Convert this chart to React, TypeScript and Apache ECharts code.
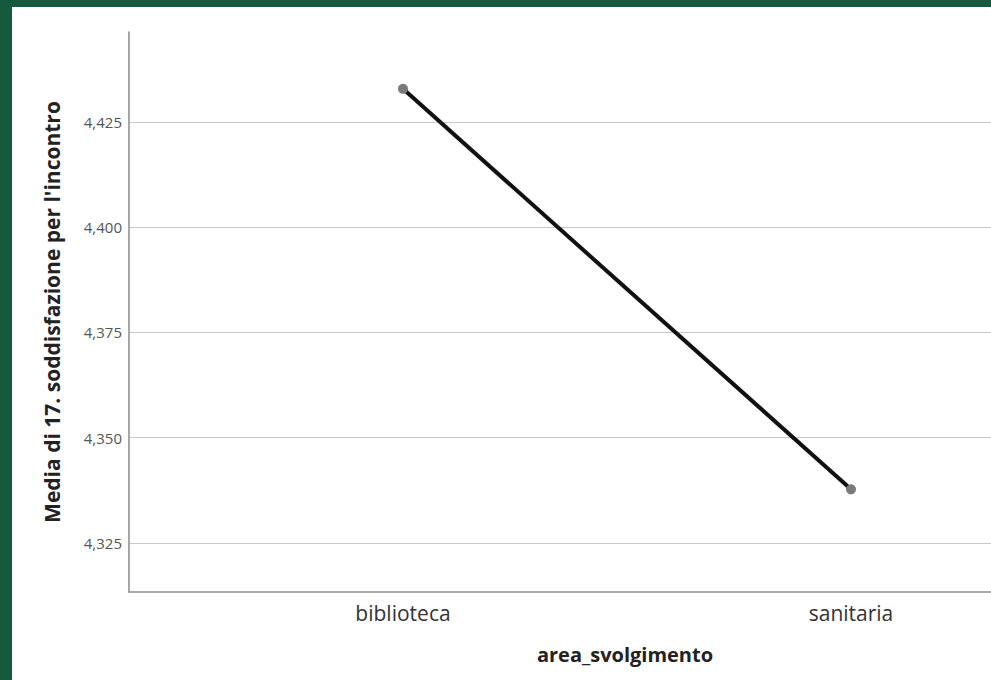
import React, { useEffect, useRef } from "react";
import * as echarts from "echarts";

const categories = ["biblioteca", "sanitaria"];
const means = [4.4329, 4.3377];
const yTicks = [4.325, 4.35, 4.375, 4.4, 4.425];
const yTitle = "Media di 17. soddisfazione per l'incontro";
const xTitle = "area_svolgimento";

export default function App() {
  const ref = useRef<HTMLDivElement>(null);
  useEffect(() => {
    if (!ref.current) return;
    const chart = echarts.init(ref.current, undefined, { renderer: "svg" });
    const font = "'Open Sans', 'Noto Sans', sans-serif";
    chart.setOption({
      animation: false,
      backgroundColor: "transparent",
      textStyle: { fontFamily: font },
      grid: { left: 129, top: 32, right: 0, bottom: 88, containLabel: false },
      xAxis: {
        type: "value",
        min: -0.6116,
        max: 1.3125,
        axisLine: { show: true, onZero: false, lineStyle: { color: "#8a8a8a", width: 1.5 } },
        axisTick: { show: false, customValues: [0, 1] },
        splitLine: { show: false },
        axisLabel: {
          customValues: [0, 1],
          formatter: (v: number) => categories[Math.round(v)] ?? "",
          fontSize: 21,
          color: "#333",
          margin: 10,
          fontFamily: font,
        },
        name: xTitle,
        nameLocation: "middle",
        nameGap: 52,
        nameTextStyle: {
          fontSize: 20,
          fontWeight: "bold",
          color: "#222",
          fontFamily: font,
          padding: [0, 0, 0, 130],
        },
      },
      yAxis: {
        type: "value",
        min: 4.3133,
        max: 4.4464,
        axisLine: { show: true, onZero: false, lineStyle: { color: "#8a8a8a", width: 1.5 } },
        axisTick: { show: false, customValues: yTicks },
        axisLabel: {
          customValues: yTicks,
          formatter: (v: number) => v.toFixed(3).replace(".", ","),
          fontSize: 15,
          color: "#555",
          margin: 7,
          fontFamily: font,
        },
        splitLine: { show: true, lineStyle: { color: "#c9c9c9", width: 1 } },
        name: yTitle,
        nameLocation: "middle",
        nameGap: 67,
        nameTextStyle: {
          fontSize: 21,
          fontWeight: "bold",
          color: "#222",
          fontFamily: font,
        },
      },
      series: [
        {
          type: "line",
          data: categories.map((c, i) => [i, means[i]]),
          lineStyle: { color: "#111", width: 4 },
          symbol: "circle",
          symbolSize: 10,
          itemStyle: { color: "#7a7a7a" },
          z: 3,
        },
      ],
    });
    return () => chart.dispose();
  }, []);
  return (
    <div
      style={{
        position: "fixed",
        left: 0,
        top: 0,
        width: 991,
        height: 680,
        background: "#165a3e",
        overflow: "hidden",
      }}
    >
      <div
        style={{
          position: "absolute",
          left: 12,
          top: 7,
          width: 979,
          height: 673,
          background: "#ffffff",
        }}
      />
      <div
        ref={ref}
        style={{ position: "absolute", left: 0, top: 0, width: 991, height: 680 }}
      />
    </div>
  );
}
